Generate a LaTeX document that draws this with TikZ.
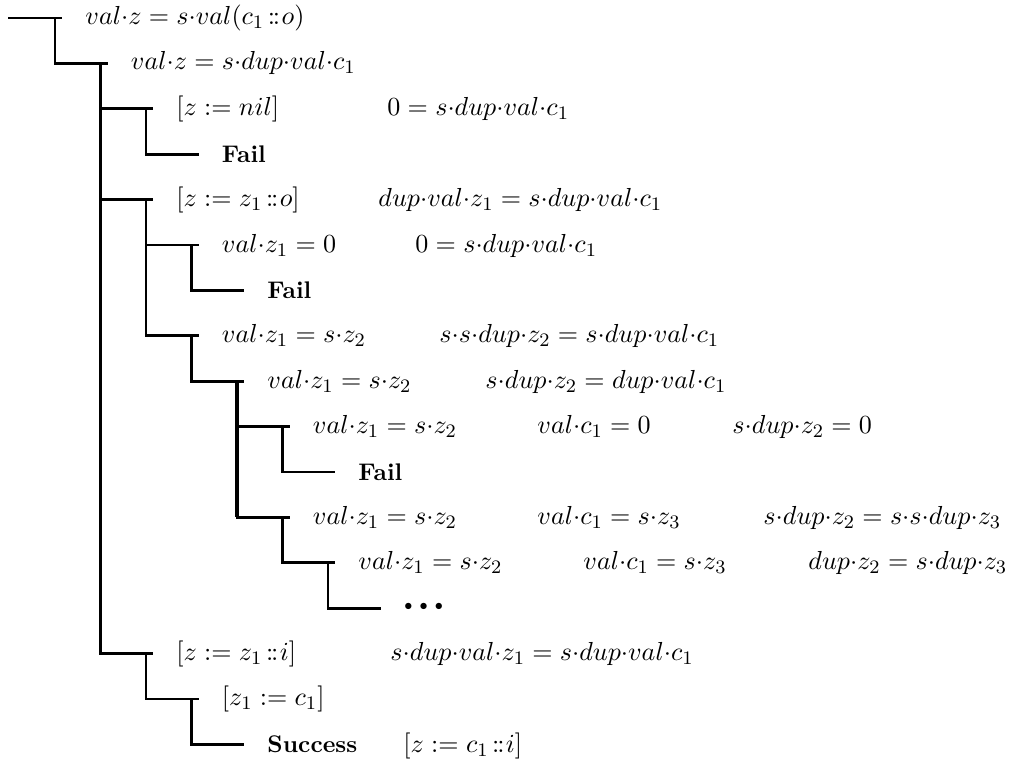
\documentclass[tikz,border=0pt]{standalone}
\newcommand\dt{{\cdot}}
\newcommand\cons{\mkern2.5mu\mathord{:}\mkern-1.5mu\mathord{:}\mkern1mu}
\begin{document}
\begin{tikzpicture}[x=0.42pt,y=-0.42pt,
  edge/.style={line width=1.1pt},
  trunk/.style={line width=1.6pt},
  lab/.style={inner sep=0pt, anchor=west, font=\fontsize{10.85}{13}\selectfont},
  col/.style={inner sep=0pt, anchor=base west, font=\fontsize{10.85}{13}\selectfont},
  bflab/.style={inner sep=0pt, anchor=west, font=\fontsize{10.1}{12}\selectfont\bfseries}]
\useasboundingbox (0,0) rectangle (1009,761);
% start point
\coordinate (r) at (8,18);
% stub ends (s), junctions (j) per row
\coordinate (s0) at (62,18);      \coordinate (j0) at (55,18);
\coordinate (s1) at (107.5,63.4); \coordinate (j1) at (100.5,63.4);
\coordinate (s2) at (153,108.8);  \coordinate (j2) at (146,108.8);
\coordinate (s3) at (198.5,154.2);
\coordinate (s4) at (153,199.6);  \coordinate (j4) at (146,199.6);
\coordinate (s5) at (198.5,245);  \coordinate (j5) at (191.5,245);
\coordinate (s6) at (244,290.4);
\coordinate (s7) at (198.5,335.8);\coordinate (j7) at (191.5,335.8);
\coordinate (s8) at (244,381.2);  \coordinate (j8) at (237,381.2);
\coordinate (s9) at (289.5,426.6);\coordinate (j9) at (282.5,426.6);
\coordinate (s10) at (335,472);
\coordinate (s11) at (289.5,517.4);\coordinate (j11) at (282.5,517.4);
\coordinate (s12) at (335,562.8); \coordinate (j12) at (328,562.8);
\coordinate (s13) at (380.5,608.2);
\coordinate (s14) at (153,653.6); \coordinate (j14) at (146,653.6);
\coordinate (s15) at (198.5,699); \coordinate (j15) at (191.5,699);
\coordinate (s16) at (244,744.4);

% connectors
\draw[edge] (r) -- (s0);
\draw[edge] (j0) |- (s1);
\draw[edge] (j1) |- (s2);
\draw[edge] (j2) |- (s3);
\draw[edge] (j1) |- (s4);
\draw[edge] (j4) |- (s5);
\draw[edge] (j5) |- (s6);
\draw[edge] (j4) |- (s7);
\draw[edge] (j7) |- (s8);
\draw[edge] (j8) |- (s9);
\draw[edge] (j9) |- (s10);
\draw[edge] (j8) |- (s11);
\draw[edge] (j11) |- (s12);
\draw[edge] (j12) |- (s13);
\draw[edge] (j1) |- (s14);
\draw[edge] (j14) |- (s15);
\draw[edge] (j15) |- (s16);
\draw[trunk] (j1) -- (j1 |- s14);
\draw[trunk] (j8) -- (j8 |- s11);

% labels
\node[lab] (n0) at (85,18) {$val\dt z = s\dt val(c_1\cons o)$};
\node[lab] (n1) at (130.5,63.4) {$val\dt z = s\dt dup\dt val\dt c_1$};
\node[lab] (n2) at (176,108.8) {$[z := nil]$};
\node[col] (n2b) at (387,0 |- n2.base) {$0 = s\dt dup\dt val\dt c_1$};
\node[bflab] (n3) at (221.5,154.2) {Fail};
\node[lab] (n4) at (176,199.6) {$[z := z_1\cons o]$};
\node[col] (n4b) at (378,0 |- n4.base) {$dup\dt val\dt z_1 = s\dt dup\dt val\dt c_1$};
\node[lab] (n5) at (221.5,245) {$val\dt z_1 = 0$};
\node[col] (n5b) at (415,0 |- n5.base) {$0 = s\dt dup\dt val\dt c_1$};
\node[bflab] (n6) at (267,290.4) {Fail};
\node[lab] (n7) at (221.5,335.8) {$val\dt z_1 = s\dt z_2$};
\node[col] (n7b) at (439,0 |- n7.base) {$s\dt s\dt dup\dt z_2 = s\dt dup\dt val\dt c_1$};
\node[lab] (n8) at (267,381.2) {$val\dt z_1 = s\dt z_2$};
\node[col] (n8b) at (485,0 |- n8.base) {$s\dt dup\dt z_2 = dup\dt val\dt c_1$};
\node[lab] (n9) at (312.5,426.6) {$val\dt z_1 = s\dt z_2$};
\node[col] (n9b) at (537,0 |- n9.base) {$val\dt c_1 = 0$};
\node[col] (n9c) at (732,0 |- n9.base) {$s\dt dup\dt z_2 = 0$};
\node[bflab] (n10) at (358,472) {Fail};
\node[lab] (n11) at (312.5,517.4) {$val\dt z_1 = s\dt z_2$};
\node[col] (n11b) at (537,0 |- n11.base) {$val\dt c_1 = s\dt z_3$};
\node[col] (n11c) at (763,0 |- n11.base) {$s\dt dup\dt z_2 = s\dt s\dt dup\dt z_3$};
\node[lab] (n12) at (358,562.8) {$val\dt z_1 = s\dt z_2$};
\node[col] (n12b) at (583,0 |- n12.base) {$val\dt c_1 = s\dt z_3$};
\node[col] (n12c) at (808,0 |- n12.base) {$dup\dt z_2 = s\dt dup\dt z_3$};
\node[lab] (n13) at (404,606.5) {\scalebox{0.62}{$\bullet$}\hspace{3pt}\scalebox{0.62}{$\bullet$}\hspace{3pt}\scalebox{0.62}{$\bullet$}};
\node[lab] (n14) at (176,653.6) {$[z := z_1\cons i]$};
\node[col] (n14b) at (390,0 |- n14.base) {$s\dt dup\dt val\dt z_1 = s\dt dup\dt val\dt c_1$};
\node[lab] (n15) at (221.5,699) {$[z_1 := c_1]$};
\node[bflab] (n16) at (267,744.4) {Success};
\node[col] (n16b) at (403,0 |- n16.base) {$[z := c_1\cons i]$};
\end{tikzpicture}
\end{document}
